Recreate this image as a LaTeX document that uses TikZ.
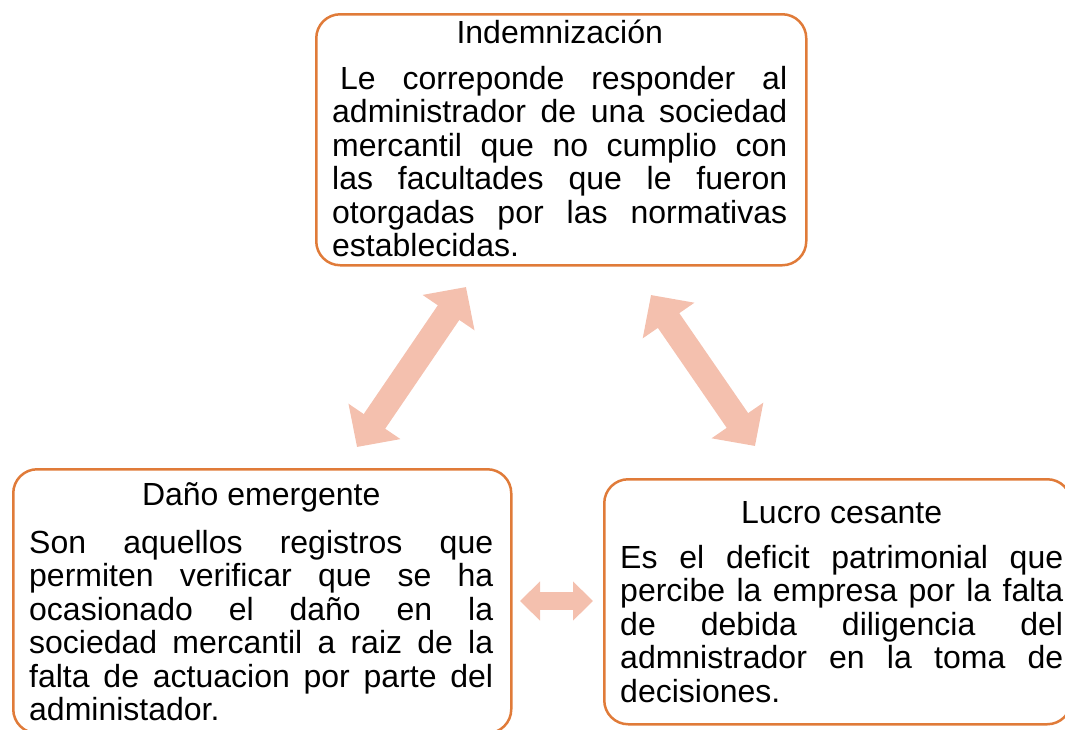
\documentclass[tikz,border=0pt]{standalone}
\usepackage{fontspec}
\setmainfont{Liberation Sans}
\usetikzlibrary{arrows.meta}
\definecolor{borde}{HTML}{E07B39}
\definecolor{salmon}{HTML}{F4C0AE}
\setlength{\parindent}{0pt}
\tolerance=10000
\hbadness=10000
\hyphenpenalty=10000
\begin{document}
\begin{tikzpicture}[x=1pt, y=-1pt,
    caja/.style={draw=borde, line width=2.5pt, rounded corners=24pt, anchor=north west, inner sep=0pt},
    texto/.style={anchor=north west, inner sep=0pt, align=justify, font=\fontsize{32}{33.5}\selectfont},
    flechota/.style={salmon, line width=26pt, {Triangle[length=31pt,width=61pt]}-{Triangle[length=31pt,width=61pt]}},
    flechita/.style={salmon, line width=18pt, {Triangle[length=20pt,width=38pt]}-{Triangle[length=20pt,width=38pt]}}]
    \useasboundingbox (0,0) rectangle (1065,729);
    \node[caja, minimum width=490pt, minimum height=251pt] (indem) at (315,13) {};
    \node[caja, minimum width=498pt, minimum height=264pt] (dano) at (12,468) {};
    \node[caja, minimum width=467pt, minimum height=245pt] (lucro) at (603,478) {};
    \node[texto, text width=455pt] (indemtxt) at (332,15.5)
    {\makebox[\linewidth]{\rule{0pt}{28pt}Indemnización}\par\vspace{12pt}%
    \hspace*{8pt}Le correponde responder al\linebreak administrador de una sociedad\linebreak
    mercantil que no cumplio con\linebreak las facultades que le fueron\linebreak
    otorgadas por las normativas\linebreak establecidas.};
    \node[texto, text width=464pt] (danotxt) at (29,477.5)
    {\makebox[\linewidth]{\rule{0pt}{28pt}Daño emergente}\par\vspace{14pt}%
    Son aquellos registros que\linebreak permiten verificar que se ha\linebreak
    ocasionado el daño en la\linebreak sociedad mercantil a raiz de la\linebreak
    falta de actuacion por parte del\linebreak administador.};
    \node[texto, text width=443pt] (lucrotxt) at (620,495.5)
    {\makebox[\linewidth]{\rule{0pt}{28pt}Lucro cesante}\par\vspace{11pt}%
    Es el deficit patrimonial que\linebreak percibe la empresa por la falta\linebreak
    de debida diligencia del\linebreak admnistrador en la toma de\linebreak decisiones.};
    \coordinate (ia) at (466,287);
    \coordinate (da) at (357,447);
    \coordinate (ib) at (651,295);
    \coordinate (lb) at (755,446);
    \coordinate (dc) at (520,601);
    \coordinate (lc) at (593,601);
    \draw[flechota] (da) -- (ia);
    \draw[flechota] (ib) -- (lb);
    \draw[flechita] (dc) -- (lc);
\end{tikzpicture}
\end{document}
